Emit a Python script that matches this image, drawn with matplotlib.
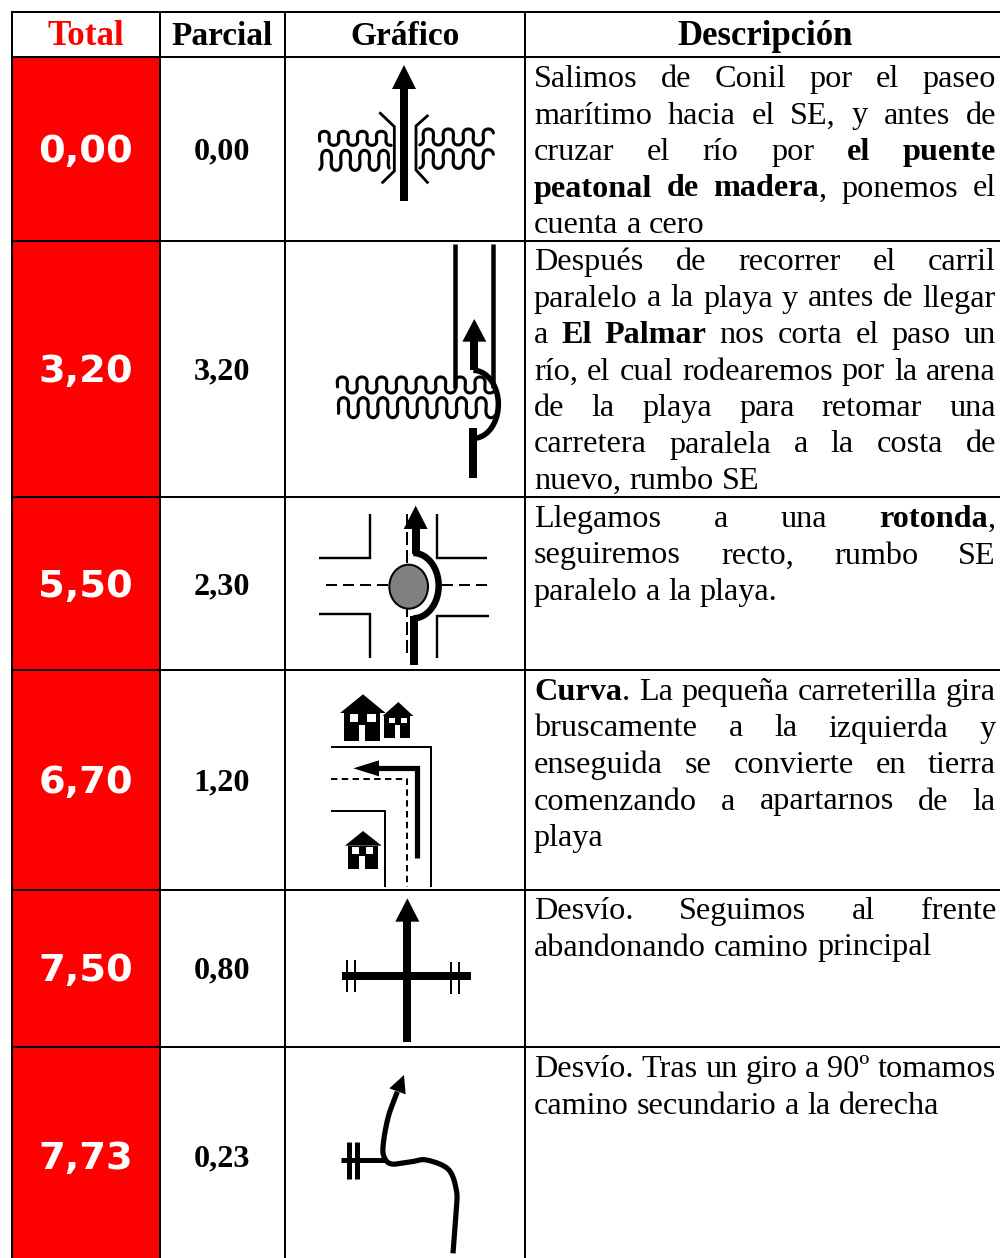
import numpy as np
import matplotlib
matplotlib.use("Agg")
import matplotlib.pyplot as plt
from matplotlib.patches import Polygon, Rectangle, Ellipse

W, H = 1000, 1258
SERIF = "Liberation Serif"
BODY_PT = 23.2

# ---------- data ----------
headers = ["Total", "Parcial", "Gráfico", "Descripción"]
totals = ["0,00", "3,20", "5,50", "6,70", "7,50", "7,73"]
partials = ["0,00", "3,20", "2,30", "1,20", "0,80", "0,23"]
descriptions = [
    ["Salimos de Conil por el paseo", "marítimo hacia el SE, y antes de",
     "cruzar el río por *el puente*", "*peatonal de madera*, ponemos el", "cuenta a cero"],
    ["Después de recorrer el carril", "paralelo a la playa y antes de llegar",
     "a *El Palmar* nos corta el paso un", "río, el cual rodearemos por la arena",
     "de la playa para retomar una", "carretera paralela a la costa de", "nuevo, rumbo SE"],
    ["Llegamos a una *rotonda*,", "seguiremos recto, rumbo SE", "paralelo a la playa."],
    ["*Curva*. La pequeña carreterilla gira", "bruscamente a la izquierda y",
     "enseguida se convierte en tierra", "comenzando a apartarnos de la", "playa"],
    ["Desvío. Seguimos al frente", "abandonando camino principal"],
    ["Desvío. Tras un giro a 90º tomamos", "camino secundario a la derecha"],
]

# ---------- layout ----------
col_x = [11.5, 160, 285, 525, 1000]
row_y = [12, 57, 241, 497, 670, 890, 1047, 1262]
label_y = [150, 370, 585, 781, 969, 1157]
desc_y = [77, 260, 517, 690, 909, 1067]
LINE_STEP = 36.5

fig = plt.figure(figsize=(W / 100, H / 100), dpi=100)
ax = fig.add_axes([0, 0, 1, 1])
ax.set_xlim(0, W)
ax.set_ylim(H, 0)
ax.axis("off")
renderer = fig.canvas.get_renderer()


def px(v):
    return v * 0.72


def line(pts, w, color="k", ls="-", cap="butt", join="miter", z=3):
    a = np.array(pts, float)
    art, = ax.plot(a[:, 0], a[:, 1], color=color, lw=px(w), solid_capstyle=cap,
                   solid_joinstyle=join, zorder=z)
    if ls != "-":
        art.set_linestyle((0, ls))
        art.set_dash_capstyle("butt")
    return art


def z(ox, oy, pts):
    return [(ox + x / 3, oy + y / 3) for x, y in pts]


def poly(pts, color="k", zo=4):
    ax.add_patch(Polygon(pts, closed=True, fc=color, ec="none", zorder=zo))


def wave(ox, oy, x0, x1, yc, amp, period, phase, w=3.1):
    # omega-shaped squiggle: the flanks overhang slightly like the drawn river sign
    n = max(2, int((x1 - x0) / period * 40))
    th = np.linspace(0, 2 * np.pi * (x1 - x0) / period, n)
    xs = x0 + th * period / (2 * np.pi) - 0.62 * period / (2 * np.pi) * np.sin(2 * (th + phase))
    ys = yc + amp * np.sin(th + phase)
    line(z(ox, oy, np.c_[xs, ys]), w, cap="round", join="round")


def spline(pts, n=24):
    p = np.array(pts, float)
    p = np.vstack([2 * p[0] - p[1], p, 2 * p[-1] - p[-2]])
    out = []
    for i in range(1, len(p) - 2):
        for t in np.linspace(0, 1, n, endpoint=False):
            out.append(0.5 * ((2 * p[i]) + (p[i + 1] - p[i - 1]) * t
                              + (2 * p[i - 1] - 5 * p[i] + 4 * p[i + 1] - p[i + 2]) * t ** 2
                              + (3 * p[i] - p[i - 1] - 3 * p[i + 1] + p[i + 2]) * t ** 3))
    out.append(p[-2])
    return np.array(out)


def up_arrow(ox, oy, x, tip, base, bottom, sw=8, hw=36):
    poly(z(ox, oy, [(x, tip), (x - hw, base), (x + hw, base)]))
    line(z(ox, oy, [(x, base - 2), (x, bottom)]), sw)


def house(ox, oy, roof, body, windows, door):
    poly(z(ox, oy, roof))
    (a, t, b, d) = body
    poly(z(ox, oy, [(a, t), (b, t), (b, d), (a, d)]))
    for (x0, y0, x1, y1) in windows + [door]:
        poly(z(ox, oy, [(x0, y0), (x1, y0), (x1, y1), (x0, y1)]), color="white", zo=5)


# ---------- table fills and text ----------
for i in range(len(totals)):
    ax.add_patch(Rectangle((col_x[0], row_y[i + 1]), col_x[1] - col_x[0],
                           row_y[i + 2] - row_y[i + 1], fc="#ff0000", ec="none", zorder=1))
    ax.text(85.5, label_y[i] + 2, totals[i], color="white", family="DejaVu Sans", weight="bold",
            fontsize=27.6, ha="center", va="center")
    ax.text(222, label_y[i] + 1.5, partials[i], color="black", family=SERIF, weight="bold",
            fontsize=23.2, ha="center", va="center")

for x in col_x[:4]:
    ax.plot([x, x], [row_y[0] - 1, H], color="k", lw=px(2), zorder=2, solid_capstyle="butt")
for y in row_y[:-1]:
    ax.plot([col_x[0] - 1, W], [y, y], color="k", lw=px(2), zorder=2, solid_capstyle="butt")

header_x = [85.5, 222, 405, 765]
header_pt = [25.3, 24, 24, 25]
for t, x, c, s in zip(headers, header_x, ["#ff0000", "k", "k", "k"], header_pt):
    ax.text(x, 45, t, color=c, family=SERIF, weight="bold", fontsize=s,
            ha="center", va="baseline")

DL, DR = 534, 996


def run_width(s, bold):
    t = ax.text(0, 0, s, family=SERIF, weight="bold" if bold else "normal", fontsize=BODY_PT)
    w = t.get_window_extent(renderer).width
    t.remove()
    return w


def draw_line(s, y, justify):
    words, bold = [], False
    for raw in s.split(" "):
        runs = []
        for j, piece in enumerate(raw.split("*")):
            if j > 0:
                bold = not bold
            if piece:
                runs.append((piece, bold))
        words.append(runs)
    widths = [sum(run_width(r, b) for r, b in runs) for runs in words]
    space = run_width("a a", False) - 2 * run_width("a", False)
    if justify and len(words) > 1:
        space = (DR - DL - sum(widths)) / (len(words) - 1)
    x = DL
    for runs, w in zip(words, widths):
        cx = x
        for r, b in runs:
            ax.text(cx, y, r, family=SERIF, weight="bold" if b else "normal",
                    fontsize=BODY_PT, ha="left", va="baseline", color="k")
            cx += run_width(r, b)
        x += w + space


for lines, y0 in zip(descriptions, desc_y):
    for k, s in enumerate(lines):
        last = k == len(lines) - 1
        draw_line(s, y0 + k * LINE_STEP + 10, not last)

# ---------- icon 1: bridge ----------
O = (285, 55)
up_arrow(*O, 357, 30, 102, 437)
line(z(*O, [(283, 172), (328, 215), (328, 348), (290, 385)]), 2.8)
line(z(*O, [(430, 180), (393, 213), (393, 345), (430, 385)]), 2.8)
wave(*O, 100, 318, 250, 21, 57, -3.55)
wave(*O, 100, 318, 316, 30, 57, -4.3)
wave(*O, 402, 620, 246, 24, 60, -4.5)
wave(*O, 402, 620, 312, 28, 60, -4.5)

# ---------- icon 2: river detour ----------
line(z(*O, [(510, 568), (510, 1000)]), 4.5)
line(z(*O, [(624, 568), (624, 1000)]), 4.5)
wave(*O, 155, 625, 990, 24, 59, -3.38)
wave(*O, 155, 625, 1058, 30, 59, -3.75)
up_arrow(*O, 568, 792, 860, 945)
t = np.linspace(-np.pi / 2, np.pi / 2, 50)
line(z(*O, np.c_[565 + 75 * np.cos(t), 1048 + 102 * np.sin(t)]), 5.5)
line(z(*O, [(563, 1118), (563, 1270)]), 8)

# ---------- icon 3: roundabout ----------
O = (285, 495)
line(z(*O, [(255, 58), (255, 188), (103, 188)]), 2.4)
line(z(*O, [(455, 58), (455, 188), (607, 188)]), 2.4)
line(z(*O, [(103, 357), (255, 357), (255, 488)]), 2.4)
line(z(*O, [(613, 363), (455, 363), (455, 488)]), 2.4)
dash = (6.5, 2.5)
line(z(*O, [(124, 270), (312, 270)]), 2.0, ls=(5.5, 3))
line(z(*O, [(470, 270), (608, 270)]), 2.0, ls=(5.5, 3))
line(z(*O, [(366, 58), (366, 488)]), 2.0, ls=dash)
ax.add_patch(Ellipse((285 + 371 / 3, 495 + 275 / 3), 116 / 3, 132 / 3, fc="#808080", ec="k",
                     lw=px(2), zorder=4))
up_arrow(*O, 392, 32, 102, 178)
t = np.linspace(-np.pi / 2, np.pi / 2, 50)
line(z(*O, np.c_[385 + 76 * np.cos(t), 272 + 98 * np.sin(t)]), 6.5)
line(z(*O, [(386, 362), (386, 510)]), 8)

# ---------- icon 4: curve with houses ----------
house(*O, [(165, 654), (234, 598), (302, 654)], (177, 652, 285, 737),
      [(195, 658, 220, 680), (247, 658, 272, 680)], (221, 690, 241, 737))
house(*O, [(293, 663), (340, 621), (385, 663)], (298, 662, 374, 728),
      [(312, 668, 330, 685), (347, 668, 365, 685)], (330, 690, 344, 728))
house(*O, [(180, 1052), (234, 1008), (290, 1052)], (190, 1052, 278, 1122),
      [(202, 1057, 222, 1076), (244, 1057, 265, 1076)], (222, 1083, 241, 1122))
line(z(*O, [(138, 755), (437, 755), (437, 1175)]), 2)
line(z(*O, [(138, 948), (299, 948), (299, 1175)]), 2)
line(z(*O, [(138, 852), (365, 852), (365, 1175)]), 2, ls=(3.2, 2.2))
line(z(*O, [(397, 1090), (397, 820), (278, 820)]), 5.2)
poly(z(*O, [(205, 820), (282, 796), (282, 844)]))

# ---------- icon 5: crossing ----------
O = (285, 890)
up_arrow(*O, 367, 25, 95, 455)
line(z(*O, [(170, 257), (558, 257)]), 8)
for x, a, b in [(187, 210, 305), (210, 210, 305), (498, 217, 312), (523, 217, 312)]:
    line(z(*O, [(x, a), (x, b)]), 2)

# ---------- icon 6: secondary road ----------
line(z(*O, [(167, 810), (300, 810)]), 5)
line(z(*O, [(193, 755), (193, 867)]), 5)
line(z(*O, [(217, 755), (217, 867)]), 5)
road = spline([(504, 1090), (514, 960), (514, 900), (490, 838), (425, 810), (380, 815),
               (320, 822), (297, 800), (295, 760), (310, 680), (337, 605)])
line(z(*O, road), 5.2, join="round")
poly(z(*O, [(357, 555), (313, 595), (362, 613)]))

fig.savefig("out.png", dpi=100)
